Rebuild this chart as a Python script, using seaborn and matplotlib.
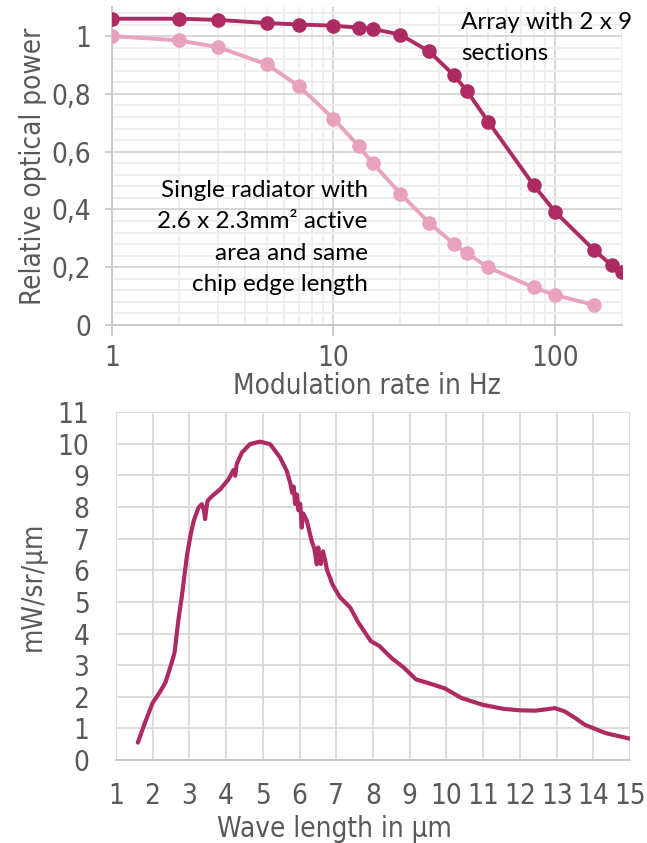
import numpy as np
import pandas as pd
import matplotlib
matplotlib.use("Agg")
import matplotlib.pyplot as plt
import matplotlib.ticker as mticker
from matplotlib import font_manager
import seaborn as sns

# --- data: modulation response ---
rate_array = [1, 2, 3, 5, 7, 10, 13, 15, 20, 27, 35, 40, 50, 80, 100, 150, 180, 200]
power_array = [1.06, 1.06, 1.056, 1.045, 1.04, 1.036, 1.029, 1.025, 1.005, 0.947,
               0.864, 0.81, 0.703, 0.484, 0.392, 0.259, 0.207, 0.184]
rate_single = [1, 2, 3, 5, 7, 10, 13, 15, 20, 27, 35, 40, 50, 80, 100, 150]
power_single = [1.0, 0.985, 0.962, 0.902, 0.826, 0.714, 0.619, 0.561, 0.455, 0.354,
                0.28, 0.248, 0.199, 0.13, 0.104, 0.069]

# --- data: emission spectrum ---
wavelength = [1.6, 1.8, 2.0, 2.2, 2.35, 2.5, 2.6, 2.7, 2.8, 2.94, 3.05, 3.12, 3.25, 3.34,
              3.4, 3.43, 3.47, 3.5, 3.62, 3.84, 4.07, 4.2, 4.25, 4.29, 4.43, 4.65, 4.92,
              5.2, 5.47, 5.65, 5.75, 5.8, 5.84, 5.88, 5.93, 5.97, 6.02, 6.06, 6.1, 6.2,
              6.33, 6.4, 6.47, 6.51, 6.55, 6.58, 6.64, 6.7, 6.75, 6.83, 6.88, 6.92, 7.1,
              7.38, 7.6, 7.94, 8.17, 8.5, 8.84, 9.17, 9.62, 9.96, 10.41, 10.97, 11.53,
              12.0, 12.42, 12.7, 12.95, 13.21, 13.5, 13.77, 14.33, 15.0]
radiance = [0.55, 1.2, 1.8, 2.15, 2.45, 3.0, 3.4, 4.4, 5.2, 6.5, 7.2, 7.56, 7.98, 8.09,
            7.9, 7.62, 8.0, 8.2, 8.35, 8.56, 8.88, 9.17, 8.99, 9.36, 9.72, 9.99, 10.07,
            9.99, 9.57, 9.15, 8.75, 8.45, 8.65, 8.1, 8.4, 7.9, 8.1, 7.35, 7.8, 7.56,
            6.93, 6.7, 6.19, 6.72, 6.3, 6.2, 6.6, 6.3, 6.0, 5.77, 5.6, 5.5, 5.15,
            4.82, 4.35, 3.76, 3.61, 3.23, 2.92, 2.55, 2.39, 2.26, 1.96, 1.75, 1.62,
            1.57, 1.56, 1.6, 1.64, 1.54, 1.33, 1.11, 0.85, 0.67]

dark = "#AD2A63"
light = "#E8A2BF"
gray_txt = "#595959"

# pick a narrow face for the axis texts if one is around
names = {f.name for f in font_manager.fontManager.ttflist}
narrow = [n for n in ["Liberation Sans Narrow", "DejaVu Sans Condensed"] if n in names]
label_font = narrow + ["DejaVu Sans"]
note_font = ["Lato", "DejaVu Sans"]
fs = 20

sns.set_style("white")
plt.rcParams["font.family"] = label_font
plt.rcParams["font.stretch"] = "condensed"

fig = plt.figure(figsize=(6.47, 8.43), dpi=100)

# ---------------- top chart ----------------
ax1 = fig.add_axes([0.173, 0.6145, 0.788, 0.377])
df_a = pd.DataFrame({"rate": rate_array, "power": power_array})
df_s = pd.DataFrame({"rate": rate_single, "power": power_single})
sns.lineplot(data=df_s, x="rate", y="power", color=light, marker="o", markersize=10.5,
             markeredgewidth=0, linewidth=2.8, ax=ax1, zorder=3)
sns.lineplot(data=df_a, x="rate", y="power", color=dark, marker="o", markersize=10.5,
             markeredgewidth=0, linewidth=2.8, ax=ax1, zorder=4)
ax1.set_xscale("log")
ax1.set_xlim(1, 200)
ax1.set_ylim(0, 1.1)
ax1.xaxis.set_major_locator(mticker.FixedLocator([1, 10, 100]))
ax1.xaxis.set_major_formatter(mticker.FixedFormatter(["1", "10", "100"]))
ax1.xaxis.set_minor_locator(mticker.LogLocator(base=10, subs=np.arange(2, 10), numticks=20))
ax1.xaxis.set_minor_formatter(mticker.NullFormatter())
ax1.yaxis.set_major_locator(mticker.MultipleLocator(0.2))
ax1.yaxis.set_minor_locator(mticker.MultipleLocator(0.04))
ax1.yaxis.set_major_formatter(mticker.FuncFormatter(
    lambda v, p: ("%g" % round(v, 2)).replace(".", ",")))
ax1.grid(which="major", color="#D4D4D4", linewidth=1.3)
ax1.grid(which="minor", color="#EDEDED", linewidth=1.3)
ax1.set_axisbelow(True)
for s in ["top", "right"]:
    ax1.spines[s].set_visible(False)
for s in ["left", "bottom"]:
    ax1.spines[s].set_color("#C8C8C8")
    ax1.spines[s].set_linewidth(1.3)
ax1.tick_params(axis="x", which="major", direction="out", length=8, width=1.3,
                color="#C8C8C8", labelsize=fs, labelcolor=gray_txt, pad=6, bottom=True)
ax1.tick_params(axis="x", which="minor", length=0)
ax1.tick_params(axis="y", which="major", direction="out", length=5, width=1.3,
                color="#C8C8C8", labelsize=fs, labelcolor=gray_txt, pad=10, left=True)
ax1.tick_params(axis="y", which="minor", length=0)
ax1.set_xlabel("Modulation rate in Hz", fontsize=fs, color=gray_txt, labelpad=0)
ax1.set_ylabel("Relative optical power", fontsize=fs, color=gray_txt, labelpad=3)
ax1.text(0.685, 0.985, "Array with 2 x 9\nsections", transform=ax1.transAxes,
         ha="left", va="top", fontsize=17.5, family=note_font, linespacing=1.6,
         color="black")
ax1.text(0.502, 0.457, "Single radiator with\n2.6 x 2.3mm\u00b2 active\narea and same\nchip edge length",
         transform=ax1.transAxes, ha="right", va="top", fontsize=17.5,
         family=note_font, linespacing=1.62, multialignment="right", color="black")

# ---------------- bottom chart ----------------
ax2 = fig.add_axes([0.179, 0.0985, 0.795, 0.4125])
df_w = pd.DataFrame({"wl": wavelength, "rad": radiance})
sns.lineplot(data=df_w, x="wl", y="rad", color=dark, linewidth=3.0, ax=ax2,
             sort=False, estimator=None)
ax2.set_xlim(1, 15)
ax2.set_ylim(0, 11)
ax2.xaxis.set_major_locator(mticker.MultipleLocator(1))
ax2.yaxis.set_major_locator(mticker.MultipleLocator(1))
ax2.grid(which="major", color="#D9D9D9", linewidth=1.3)
ax2.set_axisbelow(True)
for s in ["top", "right", "left"]:
    ax2.spines[s].set_visible(False)
ax2.spines["bottom"].set_color("#C8C8C8")
ax2.spines["bottom"].set_linewidth(1.3)
ax2.tick_params(axis="both", length=0, labelsize=fs, labelcolor=gray_txt)
ax2.tick_params(axis="x", pad=16)
ax2.tick_params(axis="y", pad=19)
ax2.set_xlabel("Wave length in \u00b5m", fontsize=fs, color=gray_txt)
ax2.xaxis.set_label_coords(0.426, -0.158)
ax2.set_ylabel("mW/sr/\u00b5m", fontsize=fs, color=gray_txt, labelpad=8)

fig.savefig("out.png", dpi=100)
